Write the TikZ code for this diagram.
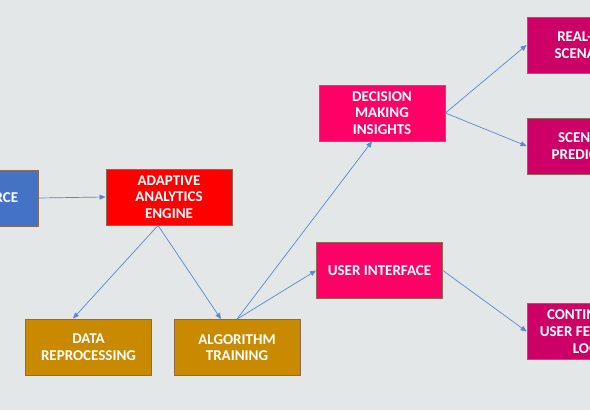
\documentclass[tikz,border=0pt]{standalone}
\usepackage{fontspec}
\setmainfont{Carlito}
\usetikzlibrary{arrows.meta}
\definecolor{bg}{HTML}{E3E7E8}
\definecolor{srcblue}{HTML}{4472C4}
\definecolor{engred}{HTML}{FF0000}
\definecolor{gold}{HTML}{C98A00}
\definecolor{pinkA}{HTML}{FF0066}
\definecolor{pinkB}{HTML}{CC0066}
\definecolor{edge}{HTML}{8A6A55}
\definecolor{arrowc}{HTML}{5B87CF}
\tikzset{
  box/.style={draw=edge, line width=0.8bp, minimum width=126bp, minimum height=56bp,
    text=white, align=center, inner sep=2bp,
    font=\fontsize{15bp}{16.7bp}\selectfont\bfseries},
  conn/.style={draw=arrowc, line width=0.7bp, -{Triangle[length=6bp,width=5bp]}}
}
\begin{document}
\begin{tikzpicture}[x=1bp,y=-1bp]
\fill[bg] (0,0) rectangle (590,410);
\useasboundingbox (0,0) rectangle (590,410);
\clip (0,0) rectangle (590,410);
\node[box, fill=srcblue] (src) at (-25,198) {DATA SOURCE};
\node[box, fill=engred] (eng) at (169,197) {ADAPTIVE\\ANALYTICS\\ENGINE};
\node[box, fill=gold] (data) at (88.5,347) {DATA\\REPROCESSING};
\node[box, fill=gold] (algo) at (237,347.5) {ALGORITHM\\TRAINING};
\node[box, fill=pinkA] (dec) at (382,113) {DECISION\\MAKING\\INSIGHTS};
\node[box, fill=pinkA] (ui) at (379.5,270.5) {USER INTERFACE};
\node[box, fill=pinkB] (rt) at (590,45) {REAL-TIME\\SCENARIOS};
\node[box, fill=pinkB] (sp) at (590,146) {SCENARIO\\PREDICTION};
\node[box, fill=pinkB] (cf) at (590,331.5) {CONTINUOUS\\USER FEEDBACK\\LOOP};
\draw[conn] (src.east) -- (eng.west);
\draw[conn] (eng.south -| 158,0) -- (data.north -| 73,0);
\draw[conn] (eng.south -| 158,0) -- (algo.north -| 221,0);
\draw[conn] (algo.north) -- (dec.south -| 372,0);
\draw[conn] (algo.north) -- (ui.west);
\draw[conn] (dec.east) -- (rt.west);
\draw[conn] (dec.east) -- (sp.west);
\draw[conn] (ui.east) -- (cf.west);
\end{tikzpicture}
\end{document}
